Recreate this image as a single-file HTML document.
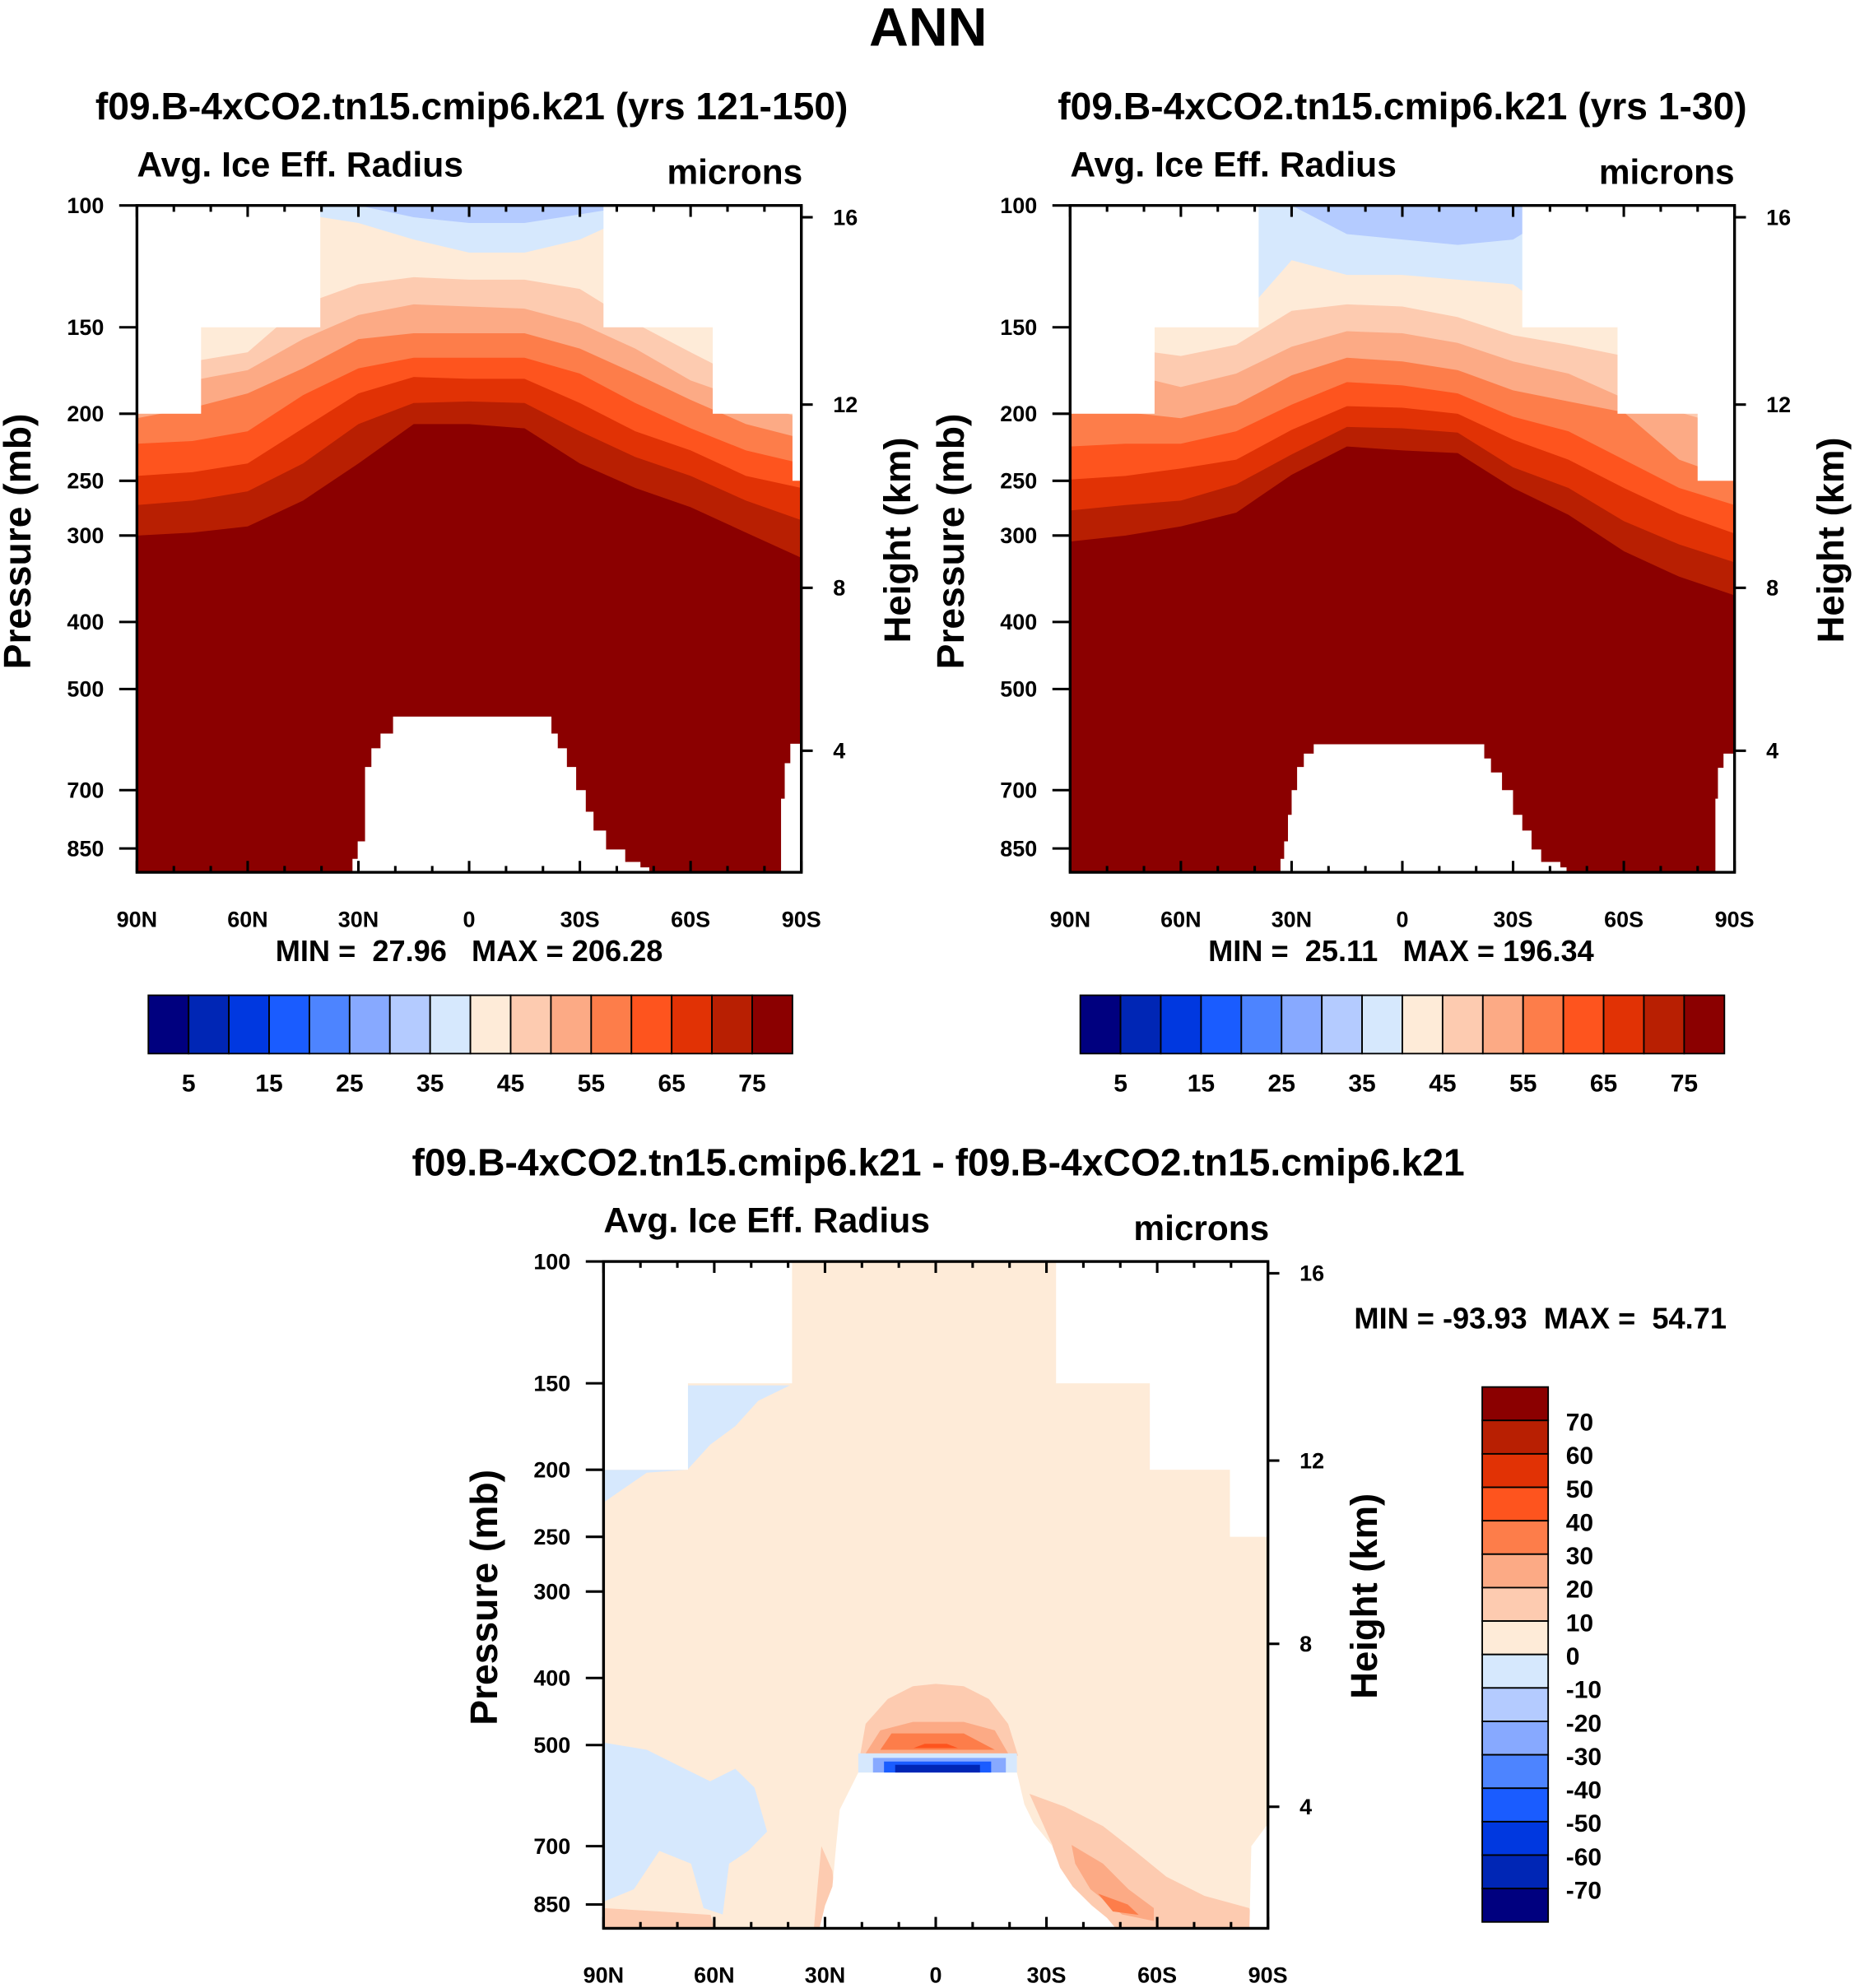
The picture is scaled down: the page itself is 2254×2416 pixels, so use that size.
<!DOCTYPE html>
<html><head><meta charset="utf-8"><style>
html,body{margin:0;padding:0;background:#fff}
svg{display:block}
text{font-family:"Liberation Sans",Arial,sans-serif;font-weight:bold;fill:#000}
</style></head><body>
<svg id="fig" xmlns="http://www.w3.org/2000/svg" width="2254" height="2416" viewBox="0 0 1463 1568">
<rect x="0" y="0" width="1463" height="1568" fill="#fff"/>
<text x="732" y="36" font-size="43" text-anchor="middle">ANN</text>
<text x="372" y="94" font-size="30" text-anchor="middle">f09.B-4xCO2.tn15.cmip6.k21 (yrs 121-150)</text>
<text x="1106" y="94" font-size="30" text-anchor="middle">f09.B-4xCO2.tn15.cmip6.k21 (yrs 1-30)</text>
<text x="740" y="927" font-size="30" text-anchor="middle">f09.B-4xCO2.tn15.cmip6.k21 - f09.B-4xCO2.tn15.cmip6.k21</text>
<text x="108" y="139" font-size="27.7">Avg. Ice Eff. Radius</text>
<text x="633" y="145" font-size="27.5" text-anchor="end">microns</text>
<text x="844" y="139" font-size="27.7">Avg. Ice Eff. Radius</text>
<text x="1368" y="145" font-size="27.5" text-anchor="end">microns</text>
<text x="476" y="972" font-size="27.7">Avg. Ice Eff. Radius</text>
<text x="1001" y="978" font-size="27.5" text-anchor="end">microns</text>
<text x="370" y="758" font-size="23.5" text-anchor="middle" xml:space="preserve">MIN =  27.96   MAX = 206.28</text>
<text x="1105" y="758" font-size="23.5" text-anchor="middle" xml:space="preserve">MIN =  25.11   MAX = 196.34</text>
<text x="1068" y="1048" font-size="23.5" xml:space="preserve">MIN = -93.93  MAX =  54.71</text>
<g id="layer"></g>
</svg>
<script>
const NS='http://www.w3.org/2000/svg';
const palette=['#00007f','#0026b5','#0038e0','#1a5cff','#4d84ff','#87a9ff','#b4cbff','#d6e8fd','#feebd8','#fdcbb0','#fcaa85','#fd7d4a','#fe541e','#e13205','#b81f02','#8b0000'];
const lats=[90,75,60,45,30,15,0,-15,-30,-45,-60,-75,-90];
const pTicks=[100,150,200,250,300,400,500,700,850];
const hTickKm=[16,12,8,4];
const hTickP=[104,194,357,614];
const latTickLabels=['90N','60N','30N','0','30S','60S','90S'];
const latTickVals=[90,60,30,0,-30,-60,-90];
// Panel 1 contour thresholds (pressure of boundary, mb)
const p1_t35=[100,100,100,100,100,104,106,106,103,100,100,100,100];
const p1_t40=[103,151,103,103,106,112,117,117,112,103,103,103,103];
const p1_t45=[168,168,163,139,130,127,128,128,132,148,163,179,187];
const p1_t50=[179,179,173,156,144,139,140,141,148,161,179,191,203];
const p1_t55=[203,196,187,172,156,153,153,153,161,175,191,207,217];
const p1_t60=[221,219,212,188,172,166,166,166,175,193,210,226,236];
const p1_t65=[246,243,236,210,187,177,178,178,193,212,226,246,256];
const p1_t70=[271,267,259,236,207,193,192,193,212,231,246,267,285];
const p1_t75=[300,297,291,267,236,207,207,210,236,256,273,297,323];
// Panel 2
const p2_t35=[100,100,100,100,100,110,112,114,112,100,100,100,100];
const p2_t40=[103,148,148,148,120,126,126,128,130,148,148,148,148];
const p2_t45=[151,161,165,159,142,139,140,145,154,159,165,190,200];
const p2_t50=[172,175,183,175,160,152,153,158,168,175,190,199,210];
const p2_t55=[199,199,203,194,176,166,168,173,185,192,199,233,249];
const p2_t60=[223,221,221,212,194,180,182,187,202,212,233,256,271];
const p2_t65=[249,246,240,233,211,195,196,200,218,233,256,279,298];
const p2_t70=[276,271,267,253,229,209,210,213,239,256,286,309,328];
const p2_t75=[306,300,291,278,245,223,226,228,256,280,316,344,366];
// data-top masks [latFrom, latTo, pTop]
const mask1=[[90,72.8,200],[72.8,40.5,150],[40.5,-36.4,100],[-36.4,-66,150],[-66,-87.6,200],[-87.6,-90,250]];
const mask2=[[90,67.3,200],[67.3,39.1,150],[39.1,-32.5,100],[-32.5,-58.3,150],[-58.3,-80,200],[-80,-90,250]];
const mask3=[[90,67.3,200],[67.3,39.1,150],[39.1,-32.6,100],[-32.6,-58,150],[-58,-79.7,200],[-79.7,-90,250]];
// topography [lat, p]
const topo1=[[31.6,921],[31.6,880],[30.2,880],[30.2,830],[28.2,830],[28.2,648],[26.5,648],[26.5,609],[24,609],[24,580],[20.6,580],[20.6,548],[-22.3,548],[-22.3,580],[-24,580],[-24,609],[-26.5,609],[-26.5,648],[-29,648],[-29,700],[-31.6,700],[-31.6,752],[-33.7,752],[-33.7,801],[-37.1,801],[-37.1,853],[-42.3,853],[-42.3,889],[-46.4,889],[-46.4,905],[-48.8,905],[-48.8,921]];
const topo1r=[[-84.5,921],[-84.5,720],[-85.5,720],[-85.5,640],[-87,640],[-87,600],[-90,600],[-90,921]];
const topo2=[[33,921],[33,880],[32,880],[32,830],[31,830],[31,760],[30,760],[30,700],[28.5,700],[28.5,648],[26.7,648],[26.7,620],[24,620],[24,601],[-22.2,601],[-22.2,630],[-24,630],[-24,660],[-27,660],[-27,700],[-30,700],[-30,760],[-32.5,760],[-32.5,801],[-35,801],[-35,853],[-37.6,853],[-37.6,889],[-42.8,889],[-42.8,905],[-44.5,905],[-44.5,921]];
const topo2r=[[-84.8,921],[-84.8,720],[-85.5,720],[-85.5,650],[-87,650],[-87,620],[-90,620],[-90,921]];
const topo3=[[31.5,921],[30,853],[28,801],[27,700],[26,620],[21,548],[-22,548],[-24,609],[-26.5,648],[-31.6,700],[-33.7,752],[-37.1,801],[-42.3,853],[-46.4,889],[-48.8,921]];
const topo3r=[[-85,921],[-85.5,700],[-90,650],[-90,921]];
// Difference field patches [lat, p]
const d_negLeft=[[90,496],[78.3,508],[68,541],[61.1,564],[54.3,541],[49.1,576],[45.7,667],[50.8,711],[56,742],[57.7,879],[62.9,860],[66.3,742],[74.9,711],[81.8,808],[90,842]];
const d_negTop=[[67.3,151],[39.5,151],[48.1,159],[54.3,173],[61.1,184],[67.3,200],[90,200],[90,223],[78.3,202],[67.3,200]];
const d_posBlob1=[[20.5,518],[19,466],[13,429],[6.2,411],[0,408],[-7.6,411],[-14.4,429],[-19.6,466],[-22.3,518]];
const d_posBlob2=[[19,514],[15,476],[6.2,463],[-7.6,463],[-16,476],[-19.6,514]];
const d_posBlob3=[[15,508],[12,481],[-7.6,481],[-16,508]];
const d_posBlob4=[[6,505],[3,498],[-3,498],[-6,505]];
const d_negStrip1=[[21,514],[-22,514],[-22,548],[21,548]];
const d_negStrip2=[[17,522],[-19,522],[-19,548],[17,548]];
const d_negStrip3=[[14,528],[-15,528],[-15,548],[14,548]];
const d_negStrip4=[[11,534],[-12,534],[-12,548],[11,548]];
const d_posRight=[[-25.4,588],[-35,614],[-45.3,655],[-53.9,711],[-62.5,775],[-72.8,826],[-84.9,860],[-86.6,921],[-38.5,921],[-36.8,842],[-31.6,775],[-31.6,697]];
const d_posRight2=[[-36.8,697],[-45.3,742],[-52.2,808],[-59.1,860],[-59.1,898],[-50.5,879],[-41.9,808],[-37.8,742]];
const d_posRight3=[[-44,820],[-52,850],[-55,880],[-48,870]];
const d_posBottom=[[90,860],[75,870],[61,880],[60,921],[90,921]];
const d_posEdge=[[31,700],[28,760],[27,860],[26,921],[33,921],[32,800]];
const cbLabelsSeq=['5','15','25','35','45','55','65','75'];
const cbLabelsDiff=['70','60','50','40','30','20','10','0','-10','-20','-30','-40','-50','-60','-70'];

const root=document.getElementById('layer');
function el(tag,parent){const e=document.createElementNS(NS,tag);parent.appendChild(e);return e;}
function txt(parent,x,y,s,size,anchor){const t=el('text',parent);t.setAttribute('x',x);t.setAttribute('y',y);t.setAttribute('font-size',size);if(anchor)t.setAttribute('text-anchor',anchor);t.textContent=s;return t;}
const W=524,H=526,K=237,PB=100*Math.exp(H/K);

function drawPanel(id,x0,y0,baseIdx,levels,mask,topo,topoR,patches){
  const X=lat=>x0+(90-lat)/180*W;
  const Y=p=>y0+K*Math.log(p/100);
  const g=el('g',root);
  
  
  const cp=el('clipPath',g);cp.setAttribute('id',id+'-clip');
  const cr=el('rect',cp);cr.setAttribute('x',x0);cr.setAttribute('y',y0);cr.setAttribute('width',W);cr.setAttribute('height',H);
  const field=el('g',g);field.setAttribute('clip-path','url(#'+id+'-clip)');
  
  
  const base=el('rect',field);base.setAttribute('x',x0);base.setAttribute('y',y0);base.setAttribute('width',W);base.setAttribute('height',H);base.setAttribute('fill',palette[baseIdx]);
  levels.forEach((lv,i)=>{
    const pts=lats.map((la,j)=>X(la).toFixed(1)+','+Y(lv.vals[j]).toFixed(1));
    pts.push(X(-90)+','+Y(PB),X(90)+','+Y(PB));
    const pg=el('polygon',field);
    
    
    pg.setAttribute('points',pts.join(' '));pg.setAttribute('fill',palette[lv.idx]);
  });
  (patches||[]).forEach((pa,i)=>{
    const pg=el('polygon',field);
    
    
    pg.setAttribute('points',pa.pts.map(q=>X(q[0]).toFixed(1)+','+Y(q[1]).toFixed(1)).join(' '));
    pg.setAttribute('fill',palette[pa.idx]);
  });
  mask.forEach((m,i)=>{
    const r=el('rect',field);
    
    
    r.setAttribute('x',X(m[0]));r.setAttribute('y',y0-1);r.setAttribute('width',X(m[1])-X(m[0])+0.5);r.setAttribute('height',Y(m[2])-y0+1);r.setAttribute('fill','#fff');
  });
  [topo,topoR].forEach((tp,i)=>{
    const pg=el('polygon',field);
    
    
    const pts=tp.map(q=>X(q[0]).toFixed(1)+','+Y(q[1]).toFixed(1));
    pg.setAttribute('points',pts.join(' '));pg.setAttribute('fill','#fff');
  });
  const fr=el('rect',g);
  
  
  fr.setAttribute('x',x0);fr.setAttribute('y',y0);fr.setAttribute('width',W);fr.setAttribute('height',H);fr.setAttribute('fill','none');fr.setAttribute('stroke','#000');fr.setAttribute('stroke-width','2.2');
  const ax=el('g',g);ax.setAttribute('stroke','#000');ax.setAttribute('stroke-width','2');
  
  
  for(let la=90;la>=-90;la-=10){
    const major=la%30===0, L=major?9:5, x=X(la);
    [[y0,y0+L],[y0+H,y0+H-L]].forEach(s=>{const l=el('line',ax);l.setAttribute('x1',x);l.setAttribute('x2',x);l.setAttribute('y1',s[0]);l.setAttribute('y2',s[1]);});
  }
  const xl=el('g',g);
  
  
  latTickVals.forEach((v,i)=>txt(xl,X(v),y0+H+43,latTickLabels[i],17.5,'middle'));
  const yl=el('g',g);
  
  
  pTicks.forEach(p=>{const l=el('line',ax);l.setAttribute('x1',x0-14);l.setAttribute('x2',x0);l.setAttribute('y1',Y(p));l.setAttribute('y2',Y(p));txt(yl,x0-26,Y(p)+6,String(p),17.5,'end');});
  const hl=el('g',g);
  
  
  hTickP.forEach((p,i)=>{const l=el('line',ax);l.setAttribute('x1',x0+W);l.setAttribute('x2',x0+W+9);l.setAttribute('y1',Y(p));l.setAttribute('y2',Y(p));txt(hl,x0+W+25,Y(p)+6,String(hTickKm[i]),17.5,'start');});
  const t1=txt(g,0,0,'Pressure (mb)',30,'middle');t1.setAttribute('transform','translate('+(x0-84)+','+(y0+265)+') rotate(-90)');
  
  
  const t2=txt(g,0,0,'Height (km)',29.5,'middle');t2.setAttribute('transform','translate('+(x0+W+86)+','+(y0+264)+') rotate(-90)');
  
  
}

function hColorbar(id,x0,y0){
  const g=el('g',root);
  
  
  const w=508/16;
  palette.forEach((c,i)=>{const r=el('rect',g);
    
    
    r.setAttribute('x',x0+i*w);r.setAttribute('y',y0);r.setAttribute('width',w);r.setAttribute('height',46);r.setAttribute('fill',c);r.setAttribute('stroke','#000');r.setAttribute('stroke-width','1.2');});
  cbLabelsSeq.forEach((s,i)=>{const t=txt(g,x0+(2*i+1)*w,y0+76,s,19.5,'middle');
    
    });
}
function vColorbar(id,x0,y0){
  const g=el('g',root);
  
  
  const h=422/16;
  palette.slice().reverse().forEach((c,i)=>{const r=el('rect',g);
    
    
    r.setAttribute('x',x0);r.setAttribute('y',y0+i*h);r.setAttribute('width',52);r.setAttribute('height',h);r.setAttribute('fill',c);r.setAttribute('stroke','#000');r.setAttribute('stroke-width','1.2');});
  cbLabelsDiff.forEach((s,i)=>{const t=txt(g,x0+66,y0+(i+1)*h+8,s,19.5,'start');
    
    });
}

drawPanel('panel1',108,162,6,[
  {vals:p1_t35,idx:7},{vals:p1_t40,idx:8},{vals:p1_t45,idx:9},{vals:p1_t50,idx:10},{vals:p1_t55,idx:11},
  {vals:p1_t60,idx:12},{vals:p1_t65,idx:13},{vals:p1_t70,idx:14},{vals:p1_t75,idx:15}],mask1,topo1,topo1r);
drawPanel('panel2',844,162,6,[
  {vals:p2_t35,idx:7},{vals:p2_t40,idx:8},{vals:p2_t45,idx:9},{vals:p2_t50,idx:10},{vals:p2_t55,idx:11},
  {vals:p2_t60,idx:12},{vals:p2_t65,idx:13},{vals:p2_t70,idx:14},{vals:p2_t75,idx:15}],mask2,topo2,topo2r);
drawPanel('panel3',476,995,8,[],mask3,topo3,topo3r,[
  {pts:d_negLeft,idx:7},{pts:d_negTop,idx:7},{pts:d_posBottom,idx:9},{pts:d_posEdge,idx:9},
  {pts:d_posBlob1,idx:9},{pts:d_posBlob2,idx:10},{pts:d_posBlob3,idx:11},{pts:d_posBlob4,idx:12},
  {pts:d_negStrip1,idx:7},{pts:d_negStrip2,idx:5},{pts:d_negStrip3,idx:3},{pts:d_negStrip4,idx:1},
  {pts:d_posRight,idx:9},{pts:d_posRight2,idx:10},{pts:d_posRight3,idx:11}]);
hColorbar('colorbar1',117,785);
hColorbar('colorbar2',852,785);
vColorbar('colorbar3',1169,1094);
</script>
</body></html>
